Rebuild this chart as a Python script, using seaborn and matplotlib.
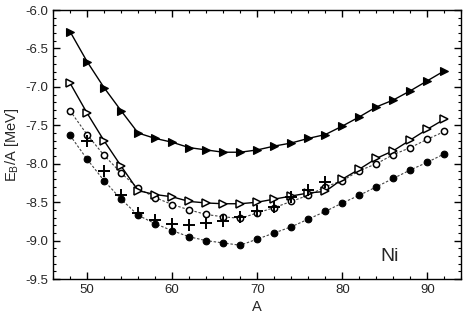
import numpy as np
import pandas as pd
import matplotlib
matplotlib.use("Agg")
import matplotlib.pyplot as plt
import seaborn as sns
from matplotlib.ticker import MultipleLocator

A_full = list(range(48, 94, 2))
A_plus = list(range(50, 80, 2))

filled_tri = [-6.28, -6.67, -7.01, -7.31, -7.60, -7.67, -7.72, -7.79, -7.82, -7.85, -7.85, -7.82,
              -7.77, -7.73, -7.67, -7.62, -7.51, -7.39, -7.26, -7.17, -7.05, -6.92, -6.79]
open_tri = [-6.95, -7.34, -7.70, -8.03, -8.35, -8.40, -8.43, -8.49, -8.51, -8.52, -8.52, -8.50,
            -8.46, -8.42, -8.38, -8.36, -8.20, -8.07, -7.93, -7.83, -7.69, -7.55, -7.42]
open_circ = [-7.31, -7.62, -7.89, -8.12, -8.32, -8.44, -8.53, -8.60, -8.66, -8.69, -8.71, -8.64,
             -8.57, -8.49, -8.41, -8.30, -8.22, -8.09, -8.00, -7.88, -7.79, -7.68, -7.58]
filled_circ = [-7.63, -7.94, -8.22, -8.46, -8.67, -8.78, -8.87, -8.95, -9.00, -9.03, -9.06, -8.98,
               -8.90, -8.82, -8.72, -8.62, -8.51, -8.41, -8.30, -8.19, -8.08, -7.98, -7.87]
plus_vals = [-7.71, -8.09, -8.40, -8.64, -8.73, -8.78, -8.80, -8.77, -8.74, -8.69, -8.62, -8.56,
             -8.43, -8.34, -8.24]

sns.set_theme(style="ticks")
plt.rcParams['font.family'] = ['Liberation Sans', 'DejaVu Sans']
plt.rcParams['mathtext.fontset'] = 'custom'
plt.rcParams['mathtext.rm'] = 'Liberation Sans'
plt.rcParams['mathtext.it'] = 'Liberation Sans:italic'

fig = plt.figure(figsize=(4.69, 3.23), dpi=100)
ax = fig.add_axes([0.113, 0.136, 0.871, 0.833])

dash = (0, (2.2, 1.6))
sns.lineplot(x=A_full, y=filled_circ, ax=ax, color='#444444', linestyle=dash, linewidth=0.8,
             marker='o', markersize=4.8, markerfacecolor='black', markeredgecolor='black',
             markeredgewidth=0.8)
sns.lineplot(x=A_full, y=open_circ, ax=ax, color='#444444', linestyle=dash, linewidth=0.8,
             marker='o', markersize=4.5, markerfacecolor='white', markeredgecolor='black',
             markeredgewidth=1.1)
sns.lineplot(x=A_full, y=open_tri, ax=ax, color='black', linestyle='-', linewidth=1.0,
             marker='>', markersize=5.5, markerfacecolor='white', markeredgecolor='black',
             markeredgewidth=1.1)
sns.lineplot(x=A_full, y=filled_tri, ax=ax, color='black', linestyle='-', linewidth=1.0,
             marker='>', markersize=5.5, markerfacecolor='black', markeredgecolor='black',
             markeredgewidth=0.8)
sns.lineplot(x=A_plus, y=plus_vals, ax=ax, color='black', linestyle='none',
             marker='+', markersize=9, markeredgewidth=1.4, markeredgecolor='black')

ax.set_xlim(46, 94)
ax.set_ylim(-9.5, -6.0)
ax.xaxis.set_major_locator(MultipleLocator(10))
ax.xaxis.set_minor_locator(MultipleLocator(2))
ax.yaxis.set_major_locator(MultipleLocator(0.5))
ax.yaxis.set_minor_locator(MultipleLocator(0.1))
ax.yaxis.set_major_formatter(matplotlib.ticker.FormatStrFormatter('%.1f'))
ax.tick_params(which='both', direction='in', top=True, right=True, labelsize=9.5, color='black')
ax.tick_params(which='major', length=5, width=1)
ax.tick_params(which='minor', length=2.5, width=0.8)
for s in ax.spines.values():
    s.set_color('black')
    s.set_linewidth(1.0)

ax.set_xlabel('A', fontsize=10.5, labelpad=3)
ax.set_ylabel(r'E$_\mathrm{B}$/A [MeV]', fontsize=10.5, labelpad=3)
ax.text(85.6, -9.21, 'Ni', fontsize=14, ha='center', va='center')

fig.savefig('out.png', dpi=100)
